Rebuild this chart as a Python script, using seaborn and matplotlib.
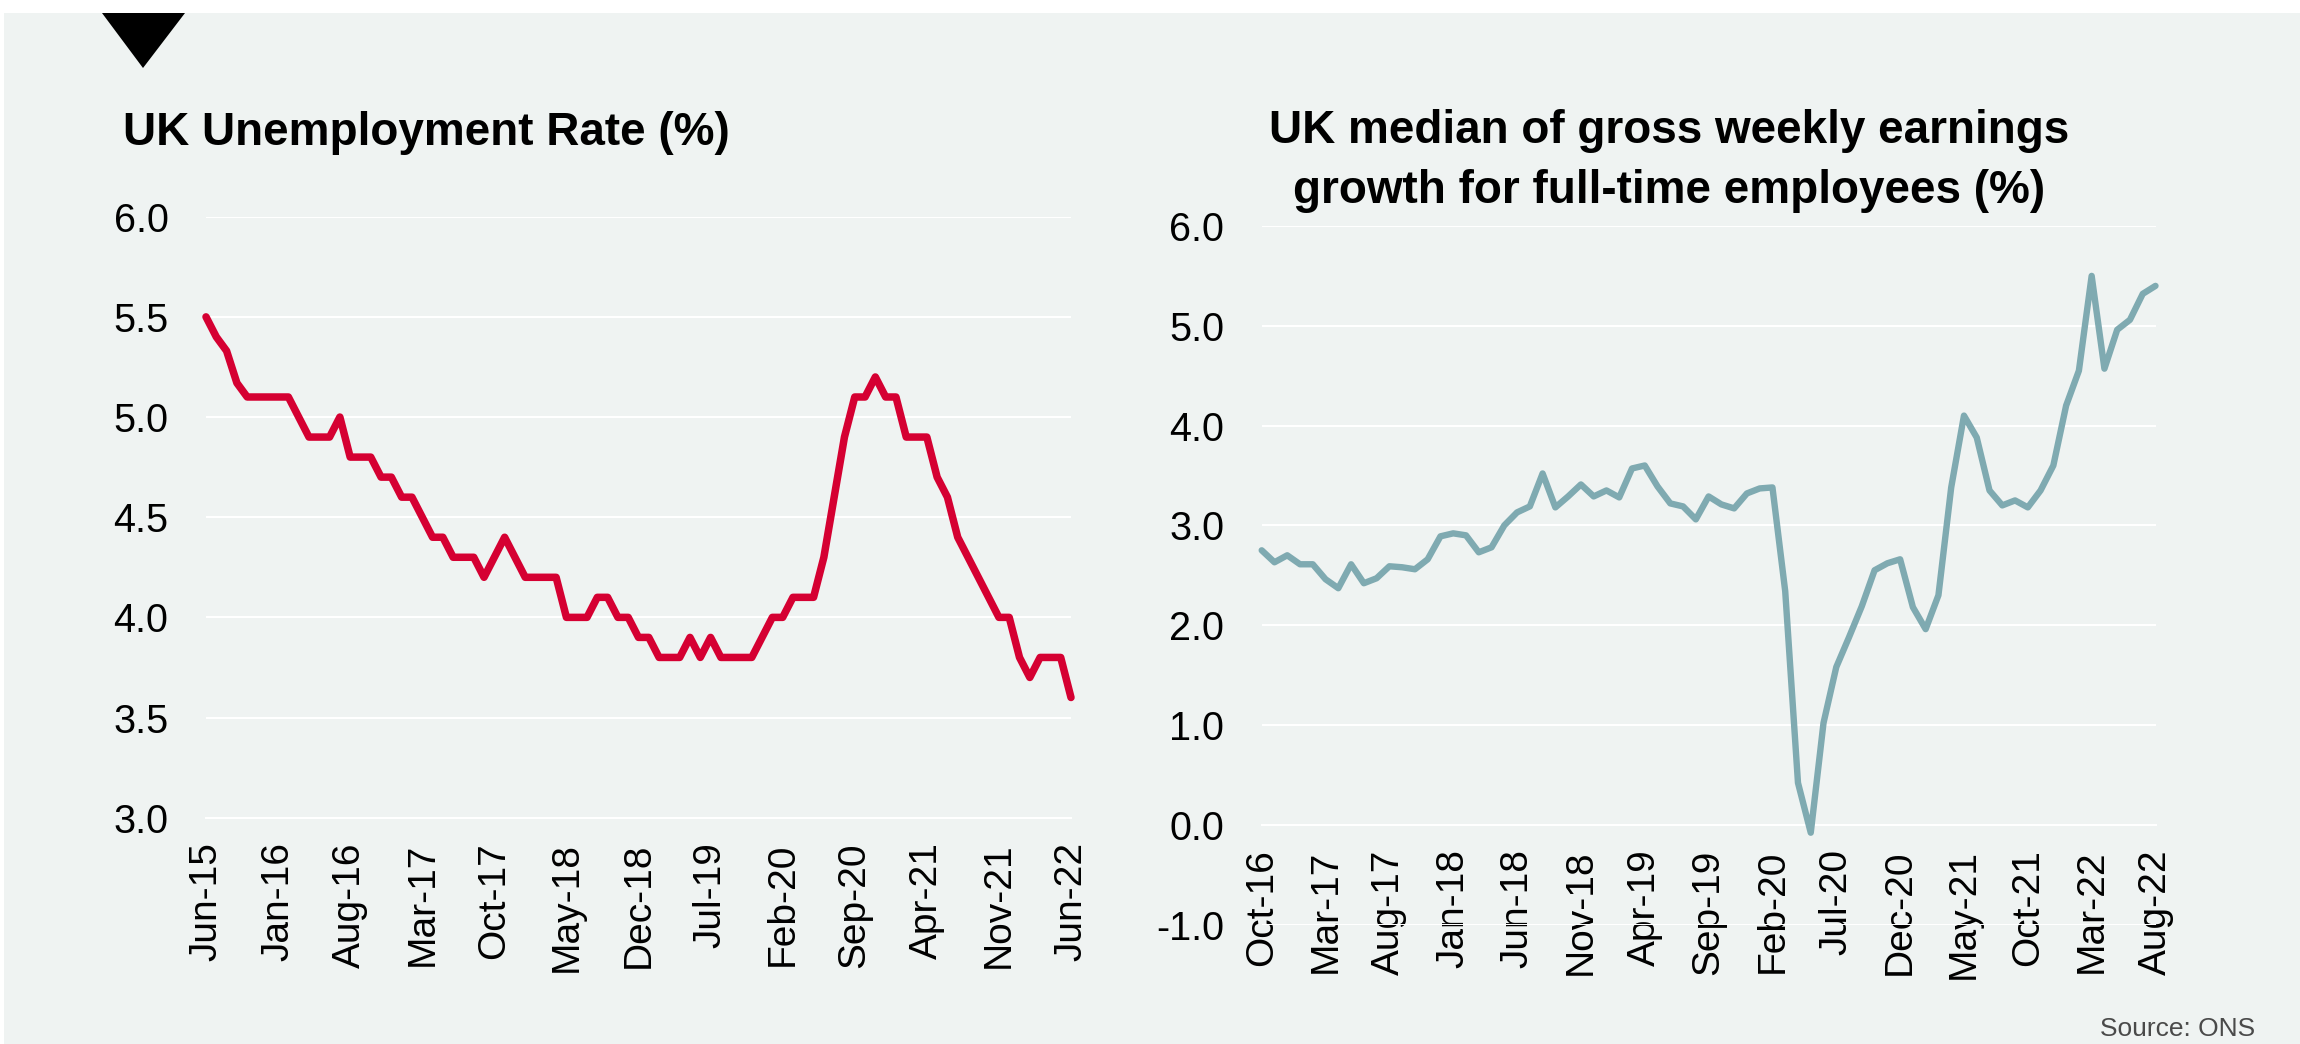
import numpy as np
import matplotlib
matplotlib.use("Agg")
import matplotlib.pyplot as plt
from matplotlib.patches import Polygon, Rectangle
import seaborn as sns

# ---- data -----------------------------------------------------------------
# UK unemployment rate (%), monthly, Jun-15 .. Jun-22
unemployment_rate = [
    5.5, 5.4, 5.33, 5.17, 5.1, 5.1, 5.1, 5.1, 5.1, 5.0,
    4.9, 4.9, 4.9, 5.0, 4.8, 4.8, 4.8, 4.7, 4.7, 4.6,
    4.6, 4.5, 4.4, 4.4, 4.3, 4.3, 4.3, 4.2, 4.3, 4.4,
    4.3, 4.2, 4.2, 4.2, 4.2, 4.0, 4.0, 4.0, 4.1, 4.1,
    4.0, 4.0, 3.9, 3.9, 3.8, 3.8, 3.8, 3.9, 3.8, 3.9,
    3.8, 3.8, 3.8, 3.8, 3.9, 4.0, 4.0, 4.1, 4.1, 4.1,
    4.3, 4.6, 4.9, 5.1, 5.1, 5.2, 5.1, 5.1, 4.9, 4.9,
    4.9, 4.7, 4.6, 4.4, 4.3, 4.2, 4.1, 4.0, 4.0, 3.8,
    3.7, 3.8, 3.8, 3.8, 3.6,
]
unemployment_ticks = ["Jun-15", "Jan-16", "Aug-16", "Mar-17", "Oct-17",
                      "May-18", "Dec-18", "Jul-19", "Feb-20", "Sep-20",
                      "Apr-21", "Nov-21", "Jun-22"]
unemployment_yticks = [3.0, 3.5, 4.0, 4.5, 5.0, 5.5, 6.0]

# UK median gross weekly earnings growth, full-time employees (%), Oct-16 .. Aug-22
earnings_growth = [
    2.75, 2.63, 2.70, 2.61, 2.61, 2.46, 2.37, 2.61, 2.42, 2.47,
    2.59, 2.58, 2.56, 2.66, 2.89, 2.92, 2.90, 2.73, 2.78, 3.00,
    3.13, 3.19, 3.52, 3.18, 3.29, 3.41, 3.29, 3.35, 3.28, 3.57,
    3.60, 3.39, 3.22, 3.19, 3.06, 3.29, 3.21, 3.17, 3.32, 3.37,
    3.38, 2.34, 0.42, -0.08, 1.02, 1.58, 1.88, 2.19, 2.55, 2.62,
    2.66, 2.18, 1.96, 2.30, 3.38, 4.10, 3.88, 3.35, 3.20, 3.25,
    3.18, 3.35, 3.60, 4.20, 4.55, 5.50, 4.57, 4.96, 5.06, 5.32,
    5.40,
]
earnings_ticks = ["Oct-16", "Mar-17", "Aug-17", "Jan-18", "Jun-18",
                  "Nov-18", "Apr-19", "Sep-19", "Feb-20", "Jul-20",
                  "Dec-20", "May-21", "Oct-21", "Mar-22", "Aug-22"]
earnings_yticks = [-1.0, 0.0, 1.0, 2.0, 3.0, 4.0, 5.0, 6.0]

left_title = "UK Unemployment Rate (%)"
right_title_lines = ["UK median of gross weekly earnings",
                     "growth for full-time employees (%)"]
source_note = "Source: ONS"

# ---- styling --------------------------------------------------------------
W, H, DPI = 2300, 1044, 100
BG = "#EFF3F2"
RED = "#D50032"
TEAL = "#7FAAB1"
GRID_LW = 1.44

sns.set_style("white")
plt.rcParams["font.family"] = ["Liberation Sans", "DejaVu Sans"]
plt.rcParams["axes.unicode_minus"] = False

fig = plt.figure(figsize=(W / DPI, H / DPI), dpi=DPI, facecolor="white")

# panel background and the corner marker
fig.patches.append(Rectangle((4 / W, 0), 1 - 4 / W, 1 - 13 / H,
                             transform=fig.transFigure, facecolor=BG,
                             edgecolor="none", zorder=-10))
marker = [(102, 13), (185, 13), (143, 68)]
fig.patches.append(Polygon([(x / W, 1 - y / H) for x, y in marker], closed=True,
                           transform=fig.transFigure, facecolor="black",
                           edgecolor="none", zorder=5))


def axes_px(x0, x1, ytop, ybot):
    return fig.add_axes([x0 / W, 1 - ybot / H, (x1 - x0) / W, (ybot - ytop) / H])


def style_axes(ax, n, yticks, xlabels, step, axis_at=None):
    if axis_at is not None:
        # horizontal axis drawn through a data value (resets tick objects)
        ax.spines["bottom"].set_position(("data", axis_at))
    ax.set_facecolor("none")
    ax.set_xlim(0, n - 1)
    ax.set_ylim(yticks[0], yticks[-1])
    ax.set_yticks(yticks)
    ax.set_yticklabels([f"{v:.1f}" for v in yticks])
    ax.set_xticks(np.arange(0, n, step))
    ax.set_xticklabels(xlabels, rotation=90)
    for side in ("left", "right", "top"):
        ax.spines[side].set_visible(False)
    ax.spines["bottom"].set_color("white")
    ax.spines["bottom"].set_linewidth(GRID_LW)
    ax.grid(axis="y", color="white", linewidth=GRID_LW)
    ax.grid(axis="x", visible=False)
    ax.set_axisbelow(True)
    ax.tick_params(axis="x", length=8.6, width=GRID_LW, color="white",
                   pad=9, labelsize=28, labelcolor="black")
    ax.tick_params(axis="y", length=0, pad=27, labelsize=28.5,
                   labelcolor="black")
    ax.set_xlabel("")
    ax.set_ylabel("")


# left panel: unemployment rate
ax1 = axes_px(206, 1071, 216.7, 817.7)
x1 = np.arange(len(unemployment_rate))
sns.lineplot(x=x1, y=unemployment_rate, ax=ax1, color=RED, linewidth=5.4)
style_axes(ax1, len(unemployment_rate), unemployment_yticks,
           unemployment_ticks, 7)

# right panel: earnings growth, category axis crossing at zero
ax2 = axes_px(1261.7, 2155.5, 226, 924.5)
x2 = np.arange(len(earnings_growth))
sns.lineplot(x=x2, y=earnings_growth, ax=ax2, color=TEAL, linewidth=4.6)
style_axes(ax2, len(earnings_growth), earnings_yticks, earnings_ticks, 5,
           axis_at=0.0)

for ax in (ax1, ax2):
    for line in ax.get_lines():
        line.set_solid_joinstyle("round")
        line.set_clip_on(False)
        line.set_zorder(3)

# titles and source
fig.text(123 / W, 1 - 145 / H, left_title, ha="left", va="baseline",
         fontsize=33, fontweight="bold", color="black")
for text, base in zip(right_title_lines, (143, 203)):
    fig.text(1669 / W, 1 - base / H, text, ha="center", va="baseline",
             fontsize=33, fontweight="bold", color="black")
fig.text(2255 / W, 1 - 1036 / H, source_note, ha="right", va="baseline",
         fontsize=19, color="#4a4a4a")

fig.savefig("out.png", dpi=DPI, facecolor=fig.get_facecolor())
